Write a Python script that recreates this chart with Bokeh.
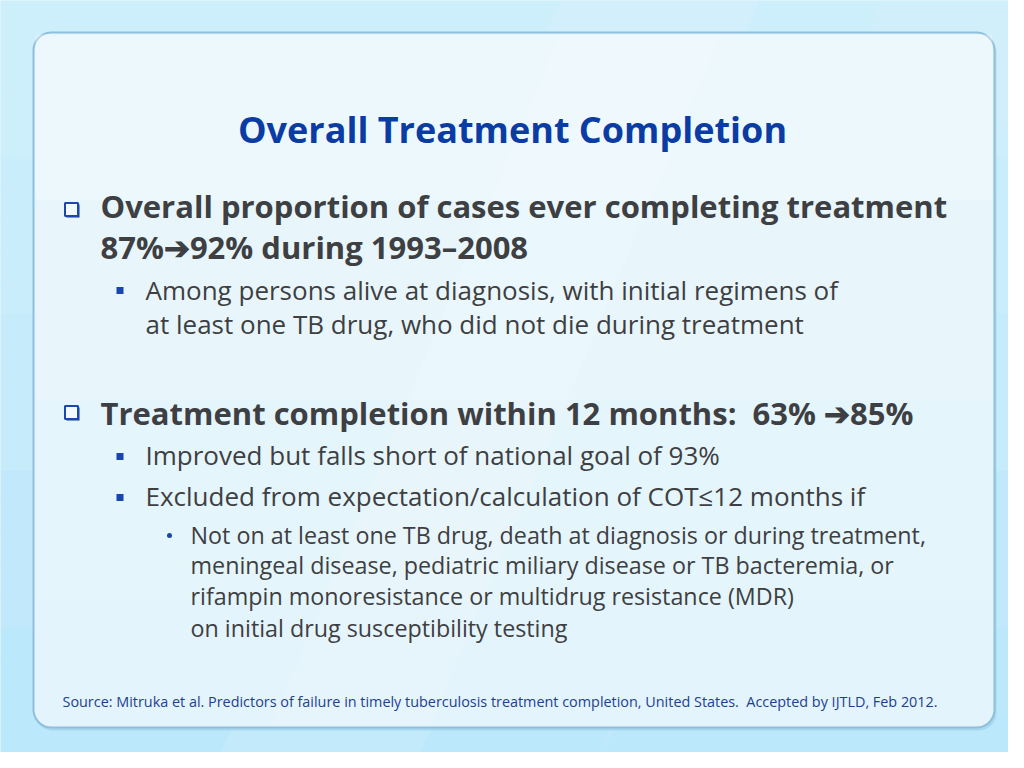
import numpy as np
from bokeh.plotting import figure
from bokeh.models import Range1d
from bokeh.core.properties import value
from bokeh.embed import file_html
from bokeh.resources import INLINE

# ---- slide content ----
title_text = ["Overall Treatment Completion"]
heading_lines = [
    "Overall proportion of cases ever completing treatment",
    "87%\u279492% during 1993\u20132008",
    "Treatment completion within 12 months:\u00a0 63% \u279485%",
]
sub_lines = [
    "Among persons alive at diagnosis, with initial regimens of",
    "at least one TB drug, who did not die during treatment",
    "Improved but falls short of national goal of 93%",
    "Excluded from expectation/calculation of COT\u226412 months if",
]
detail_lines = [
    "Not on at least one TB drug, death at diagnosis or during treatment,",
    "meningeal disease, pediatric miliary disease or TB bacteremia, or",
    "rifampin monoresistance or multidrug resistance (MDR)",
    "on initial drug susceptibility testing",
]
source_text = ["Source: Mitruka et al. Predictors of failure in timely tuberculosis treatment completion, United States.\u00a0 Accepted by IJTLD, Feb 2012."]

# ---- layout (page pixel coordinates) ----
heading_y = [205, 246, 412]
sub_y = [289, 323, 454, 495]
sub_bullet_y = [290, 456, 497]
detail_y = [534, 564, 595, 627]

FONT = "Open Sans"
TEXT = "#3e3f42"
BLUE = "#0b3ca3"

p = figure(width=1008, height=752, output_backend="svg", toolbar_location=None,
           x_range=Range1d(0, 1008), y_range=Range1d(752, 0),
           min_border=0, x_axis_location=None, y_axis_location=None)
p.grid.visible = False
p.outline_line_color = None
p.background_fill_color = "#c3eafb"
p.border_fill_color = "#c3eafb"

# background bands (gradient imitation)
ys = np.linspace(0, 752, 25)
cols = ["#cdeefb", "#c9edfb", "#c6ebfb", "#c1e9fb", "#bce8fb"]
for i in range(len(ys) - 1):
    c = cols[min(int(i / (len(ys) - 1) * len(cols)), len(cols) - 1)]
    p.quad(left=0, right=1008, top=ys[i], bottom=ys[i + 1] + 1, fill_color=c, line_color=None)
# light diagonal streaks
p.patch([560, 760, 420, 220], [0, 0, 752, 752], fill_color="white", fill_alpha=0.10, line_color=None)
p.patch([880, 1008, 1008, 600], [0, 0, 120, 752], fill_color="white", fill_alpha=0.08, line_color=None)


def rrect(x0, y0, x1, y1, r, n=14):
    xs, ys_ = [], []
    for cx, cy, a0 in [(x1 - r, y0 + r, -90), (x1 - r, y1 - r, 0), (x0 + r, y1 - r, 90), (x0 + r, y0 + r, 180)]:
        a = np.radians(np.linspace(a0, a0 + 90, n))
        xs += list(cx + r * np.cos(a))
        ys_ += list(cy + r * np.sin(a))
    return xs, ys_


# panel shadow and panel
sx, sy = rrect(34, 34, 996, 730, 18)
p.patch(sx, sy, fill_color="#7fb8d6", fill_alpha=0.35, line_color=None)
px, py = rrect(33, 32, 994, 727, 18)
p.patch(px, py, fill_color="#e3f4fc", line_color="#8fbfdc", line_width=2)
# subtle panel gradient
for y0, y1, a in [(34, 200, 0.35), (200, 400, 0.2), (400, 600, 0.1)]:
    gx, gy = rrect(35, y0, 992, y1, 4)
    p.patch(gx, gy, fill_color="white", fill_alpha=a, line_color=None)
p.patch([560, 720, 430, 270], [34, 34, 725, 725], fill_color="white", fill_alpha=0.12, line_color=None)

# title
p.text(x=[512], y=[129], text=title_text, text_font=value(FONT), text_font_style="bold",
       text_font_size="36px", text_color=BLUE, text_align="center", text_baseline="alphabetic")

# level-1 bullets (hollow squares with shadow)
for by in [209, 412]:
    p.rect(x=[72.5], y=[by + 1.5], width=13, height=13, fill_color="#123a8e", line_color=None)
    p.rect(x=[71], y=[by], width=13, height=13, fill_color="#f2faff", line_color="#1b47b0", line_width=2)

p.text(x=[100] * 3, y=heading_y, text=heading_lines, text_font=value(FONT), text_font_style="bold",
       text_font_size="31px", text_color=TEXT, text_baseline="alphabetic")

# level-2 bullets
p.rect(x=[119.5] * 3, y=sub_bullet_y, width=7, height=7, fill_color="#1846b0", line_color=None)
p.text(x=[145] * 4, y=sub_y, text=sub_lines, text_font=value(FONT),
       text_font_size="26px", text_color=TEXT, text_baseline="alphabetic")

# level-3 bullet
p.scatter(x=[169], y=[535], size=5, marker="circle", fill_color="#1846b0", line_color=None)
p.text(x=[190] * 4, y=detail_y, text=detail_lines, text_font=value(FONT),
       text_font_size="23.3px", text_color=TEXT, text_baseline="alphabetic")

# source
p.text(x=[62], y=[701], text=source_text, text_font=value(FONT),
       text_font_size="14.4px", text_color="#1d3f8f", text_baseline="alphabetic")

open("out.html", "w").write(file_html(p, INLINE))
